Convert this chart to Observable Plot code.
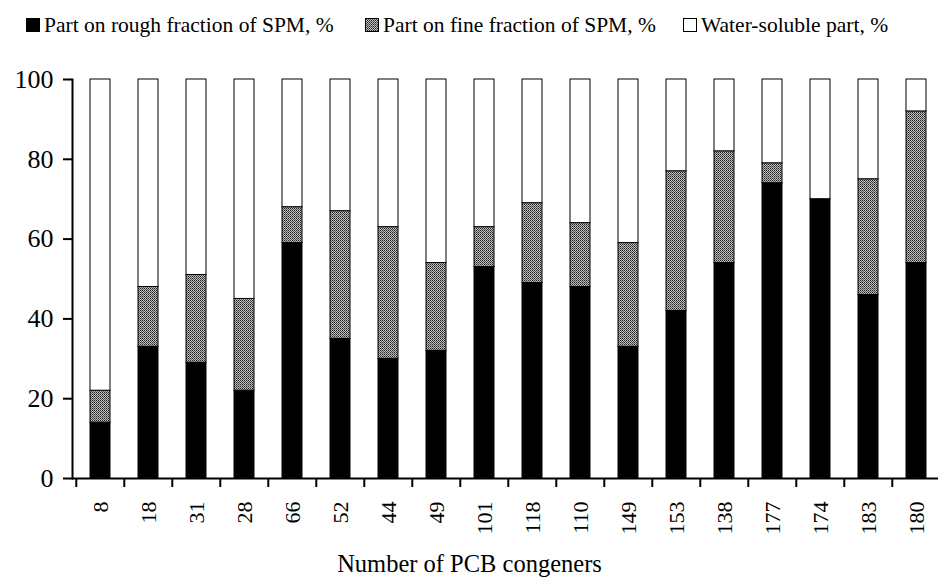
<!DOCTYPE html>
<html><head><meta charset="utf-8">
<script src="https://cdn.jsdelivr.net/npm/d3@7"></script>
<script src="https://cdn.jsdelivr.net/npm/@observablehq/plot@0.6"></script>
<style>
body{margin:0;background:#fff;overflow:hidden;font-family:'Liberation Serif',serif;}
#legend,#chart{display:block;}
</style></head><body>
<div id="legend"></div>
<div id="chart"></div>
<script>
const congeners = ["8","18","31","28","66","52","44","49","101","118","110","149","153","138","177","174","183","180"];
const roughPart = [14,33,29,22,59,35,30,32,53,49,48,33,42,54,74,70,46,54];
const finePart  = [8,15,22,23,9,32,33,22,10,20,16,26,35,28,5,0,29,38];
const waterPart = [78,52,49,55,32,33,37,46,37,31,36,41,23,18,21,30,25,8];
const seriesNames = ["Part on rough fraction of SPM, %","Part on fine fraction of SPM, %","Water-soluble part, %"];
const yTicks = [0,20,40,60,80,100];
const xTitle = "Number of PCB congeners";

const seriesValues = [roughPart, finePart, waterPart];
const rows = congeners.flatMap((c, i) => seriesNames.map((s, k) => ({congener: c, series: s, value: seriesValues[k][i]})));

const FONT = "Liberation Serif";

// Legend (above the plot) with pattern definition
const legend = d3.create("svg").attr("width", 938).attr("height", 50).attr("font-family", FONT).style("display", "block");
const pat = legend.append("defs").append("pattern")
  .attr("id", "fineFill").attr("patternUnits", "userSpaceOnUse")
  .attr("width", 2).attr("height", 2);
pat.append("rect").attr("width", 2).attr("height", 2).attr("fill", "#bdbdbd");
pat.append("rect").attr("x", 0).attr("y", 0).attr("width", 1).attr("height", 1).attr("fill", "#222");
pat.append("rect").attr("x", 1).attr("y", 1).attr("width", 1).attr("height", 1).attr("fill", "#555");
const legendFills = ["black", "url(#fineFill)", "white"];
const legendX = [26, 365, 683];
seriesNames.forEach((s, k) => {
  const g = legend.append("g").attr("transform", `translate(${legendX[k]},0)`);
  g.append("rect").attr("x", 0.5).attr("y", 18.5).attr("width", 13).attr("height", 13)
    .attr("fill", legendFills[k]).attr("stroke", "black").attr("stroke-width", 1);
  g.append("text").attr("x", 18).attr("y", 32).attr("font-size", 21.5)
    .attr("font-family", FONT).attr("fill", "black").text(s);
});
document.getElementById("legend").append(legend.node());

const step = (943.5 - 72) / congeners.length;
const chart = Plot.plot({
  width: 938, height: 528,
  marginLeft: 72, marginRight: 0, marginTop: 29, marginBottom: 100,
  style: {background: "white", color: "black", overflow: "hidden"},
  x: {type: "band", domain: congeners, range: [72, 943.5], paddingInner: 0.587, paddingOuter: 0.2935},
  y: {domain: [0, 100]},
  color: {type: "ordinal", domain: seriesNames, range: legendFills},
  marks: [
    Plot.barY(rows, Plot.stackY({x: "congener", y: "value", fill: "series", order: seriesNames, stroke: "black", strokeWidth: 1})),
    Plot.axisY({ticks: yTicks, tickSize: 9, tickPadding: 10, fontSize: 26, fontFamily: FONT, strokeWidth: 2, label: null}),
    Plot.axisX({tickSize: 9, tickFormat: () => "", dx: -step / 2, strokeWidth: 2, label: null}),
    Plot.axisX({tickSize: 0, tickPadding: 23, tickRotate: -90, fontSize: 22, fontFamily: FONT, label: null}),
    Plot.ruleY([0], {strokeWidth: 2}),
    Plot.frame({anchor: "left", strokeWidth: 2}),
    Plot.text([xTitle], {frameAnchor: "bottom", dy: 93, dx: -36, fontSize: 24.5, fontFamily: FONT})
  ]
});
chart.setAttribute("font-family", FONT);
document.getElementById("chart").append(chart);
</script>
</body></html>
